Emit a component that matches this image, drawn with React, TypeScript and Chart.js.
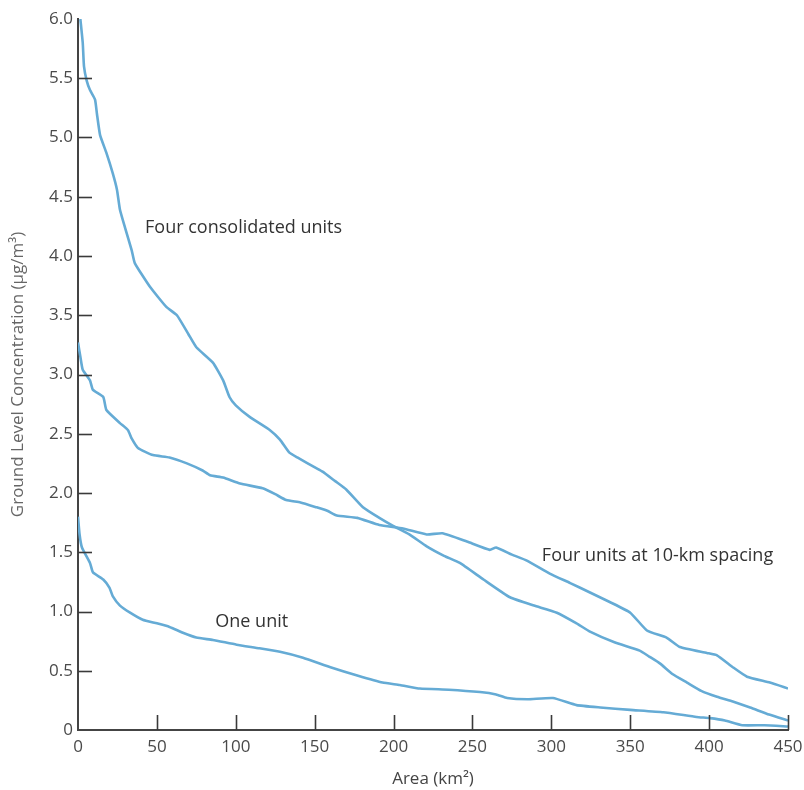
import React, { useEffect, useRef } from "react";
import { Chart, registerables } from "chart.js";

Chart.register(...registerables);

// Four consolidated units
const consolidatedX = [1.5, 3, 3.8, 5.5, 7.6, 10.8, 12, 14, 18, 22, 24.7, 26.6, 29.8, 34, 36, 45.6, 56, 62.7, 70, 75, 85.5, 92, 96, 100, 109, 121.7, 128, 134, 139, 151, 155, 163, 170, 180.6, 191, 200, 210, 221, 232, 242, 257, 273.8, 289, 303.5, 316, 324.5, 340, 356, 362, 369, 377, 386, 395, 405, 415, 426, 438, 450];
const consolidatedY = [6.0, 5.8, 5.6, 5.48, 5.4, 5.32, 5.2, 5.02, 4.87, 4.7, 4.56, 4.39, 4.24, 4.05, 3.94, 3.74, 3.57, 3.5, 3.34, 3.23, 3.1, 2.95, 2.81, 2.74, 2.64, 2.53, 2.45, 2.34, 2.3, 2.21, 2.18, 2.1, 2.03, 1.88, 1.79, 1.72, 1.65, 1.55, 1.47, 1.41, 1.27, 1.12, 1.05, 0.99, 0.9, 0.83, 0.74, 0.67, 0.62, 0.56, 0.47, 0.4, 0.33, 0.28, 0.24, 0.19, 0.13, 0.08];

// Four units at 10-km spacing
const spacedX = [0, 1.5, 3, 7.6, 9.5, 16, 18, 26.6, 31.7, 34, 38, 47.5, 58, 69, 79, 83.7, 92, 102.7, 117, 125, 132, 141, 151, 158, 164, 177, 191, 206, 221, 231, 246.5, 261, 265, 275, 284.5, 299, 312, 324.5, 337, 350, 360.6, 373, 381.5, 398.6, 405, 415, 424, 438.5, 450];
const spacedY = [3.27, 3.15, 3.04, 2.95, 2.87, 2.81, 2.7, 2.59, 2.53, 2.46, 2.38, 2.32, 2.3, 2.25, 2.19, 2.15, 2.13, 2.08, 2.04, 1.99, 1.94, 1.92, 1.88, 1.85, 1.81, 1.79, 1.73, 1.7, 1.65, 1.66, 1.59, 1.52, 1.54, 1.48, 1.43, 1.32, 1.24, 1.16, 1.08, 0.99, 0.84, 0.78, 0.7, 0.65, 0.63, 0.53, 0.45, 0.4, 0.35];

// One unit
const oneX = [0, 1, 2.5, 7.6, 9.5, 16, 20, 22, 26.6, 33, 41, 50, 58, 66.5, 75, 85.5, 100.5, 115, 128, 142.6, 160, 177, 193, 204, 216.7, 235, 254.8, 265, 272, 285, 301, 316, 331, 350, 371, 392, 400.5, 410, 421, 435, 450];
const oneY = [1.8, 1.65, 1.54, 1.41, 1.33, 1.27, 1.2, 1.13, 1.05, 0.99, 0.93, 0.9, 0.87, 0.82, 0.78, 0.76, 0.72, 0.69, 0.66, 0.61, 0.53, 0.46, 0.4, 0.38, 0.35, 0.34, 0.32, 0.3, 0.27, 0.26, 0.27, 0.21, 0.19, 0.17, 0.15, 0.11, 0.1, 0.08, 0.04, 0.04, 0.03];

// Curve labels (text and anchor in data units)
const labelTexts = ["Four consolidated units", "One unit", "Four units at 10-km spacing"];
const labelX = [42.5, 87, 294];
const labelY = [4.24, 0.91, 1.47];

const xTitle = "Area (km²)";
const yTitle = "Ground Level Concentration (µg/m³)";

const LINE = "#65abd5";
const FONT = "'Open Sans', 'Liberation Sans', sans-serif";

const toPts = (xs: number[], ys: number[]) => xs.map((x, i) => ({ x, y: ys[i] }));

export default function App() {
  const ref = useRef<HTMLCanvasElement | null>(null);

  useEffect(() => {
    document.body.style.margin = "0";
    const canvas = ref.current!;
    const innerTicks = {
      id: "innerTicks",
      afterDatasetsDraw(chart: any) {
        const { ctx, chartArea } = chart;
        const xs = chart.scales.x;
        const ys = chart.scales.y;
        ctx.save();
        ctx.strokeStyle = "#3a3a3a";
        ctx.lineWidth = 1.6;
        xs.ticks.forEach((t: any) => {
          if (t.value === 0) return;
          const px = Math.round(xs.getPixelForValue(t.value)) + 0.5;
          ctx.beginPath();
          ctx.moveTo(px, chartArea.bottom);
          ctx.lineTo(px, chartArea.bottom - 15);
          ctx.stroke();
        });
        ys.ticks.forEach((t: any) => {
          if (t.value === 0 || t.value === 6) return;
          const py = Math.round(ys.getPixelForValue(t.value)) + 0.5;
          ctx.beginPath();
          ctx.moveTo(chartArea.left, py);
          ctx.lineTo(chartArea.left + 14, py);
          ctx.stroke();
        });
        ctx.fillStyle = "#333";
        ctx.font = `18px ${FONT}`;
        ctx.textBaseline = "middle";
        ctx.textAlign = "left";
        labelTexts.forEach((txt, i) => {
          ctx.fillText(txt, xs.getPixelForValue(labelX[i]), ys.getPixelForValue(labelY[i]));
        });
        ctx.restore();
      },
    };

    const chart = new Chart(canvas, {
      type: "line",
      data: {
        datasets: [
          { label: labelTexts[0], data: toPts(consolidatedX, consolidatedY) },
          { label: labelTexts[2], data: toPts(spacedX, spacedY) },
          { label: labelTexts[1], data: toPts(oneX, oneY) },
        ].map((d) => ({
          ...d,
          borderColor: LINE,
          borderWidth: 2.6,
          pointRadius: 0,
          tension: 0.15,
          fill: false,
        })),
      },
      options: {
        animation: false,
        responsive: false,
        events: [],
        layout: { padding: { top: 19, right: 16, left: 0, bottom: 0 } },
        plugins: { legend: { display: false }, tooltip: { enabled: false } },
        scales: {
          x: {
            type: "linear",
            min: 0,
            max: 450,
            afterFit: (s: any) => {
              s.height = 60;
              s.paddingRight = 0;
              s.paddingLeft = 0;
            },
            border: { display: true, color: "#444", width: 2 },
            grid: { drawOnChartArea: false, drawTicks: false },
            ticks: {
              stepSize: 50,
              padding: 7,
              color: "#4a4a4a",
              font: { family: FONT, size: 17 },
              maxRotation: 0,
            },
            title: {
              display: true,
              text: xTitle,
              color: "#444",
              font: { family: FONT, size: 17 },
              padding: { top: 0, bottom: 1 },
            },
          },
          y: {
            type: "linear",
            min: 0,
            max: 6,
            afterFit: (s: any) => {
              s.width = 78;
              s.paddingTop = 0;
              s.paddingBottom = 0;
            },
            border: { display: true, color: "#444", width: 2 },
            grid: { drawOnChartArea: false, drawTicks: false },
            ticks: {
              stepSize: 0.5,
              padding: 5,
              color: "#4a4a4a",
              font: { family: FONT, size: 17 },
              callback: (v: any) => (Number(v) === 0 ? "0" : Number(v).toFixed(1)),
            },
            title: {
              display: true,
              text: yTitle,
              color: "#666",
              font: { family: FONT, size: 17 },
              padding: { top: 8, bottom: 0 },
            },
          },
        },
      },
      plugins: [innerTicks],
    } as any);
    return () => chart.destroy();
  }, []);

  return (
    <div style={{ width: 804, height: 790, background: "#fff" }}>
      <canvas ref={ref} width={804} height={790} style={{ display: "block" }} />
    </div>
  );
}
